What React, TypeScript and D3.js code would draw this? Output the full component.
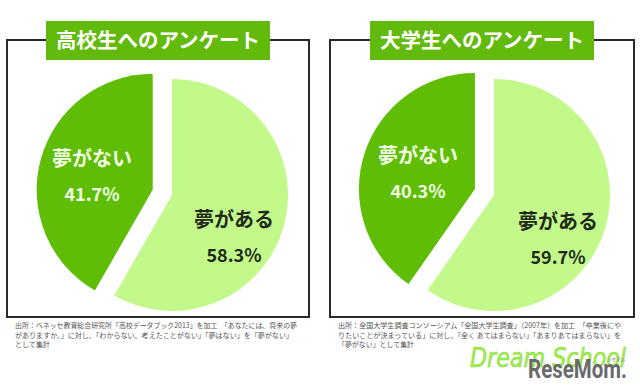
import React from "react";
import * as d3 from "d3";

const categories = ["夢がある", "夢がない"];
const panelTitles = ["高校生へのアンケート", "大学生へのアンケート"];
const highSchoolValues = [58.3, 41.7];
const universityValues = [59.7, 40.3];
const sourceNotesHigh = [
  "出所：ベネッセ教育総合研究所「高校データブック2013」を加工　「あなたには、将来の夢",
  "がありますか。」に対し、「わからない、考えたことがない」「夢はない」を「夢がない」",
  "として集計",
];
const sourceNotesUniv = [
  "出所：全国大学生調査コンソーシアム「全国大学生調査」（2007年）を加工　「卒業後にや",
  "りたいことが決まっている」に対し、「全く あてはまらない」「あまりあてはまらない」を",
  "「夢がない」として集計",
];

const W = 640;
const H = 392;
const R = 116;
const EXPLODE = 20;
const COLORS = ["#c3f98b", "#5fbd05"];
const TEXT_COLORS = ["#222a1a", "#f2ffe4"];
const FONT = "'Noto Sans CJK JP', 'Noto Sans', sans-serif";

type PanelSpec = {
  title: string;
  values: number[];
  notes: string[];
  boxX: number;
  boxW: number;
  titleX: number;
  titleW: number;
  cx: number;
  cy: number;
  noteWidths: number[];
  labelOffsets: { dx: number; dy: number }[];
};

const panels: PanelSpec[] = [
  {
    title: panelTitles[0],
    values: highSchoolValues,
    notes: sourceNotesHigh,
    boxX: 7,
    boxW: 302,
    titleX: 46,
    titleW: 224,
    cx: 172,
    cy: 195,
    noteWidths: [282, 278, 35],
    labelOffsets: [
      { dx: 62, dy: 32 },
      { dx: -80, dy: -29 },
    ],
  },
  {
    title: panelTitles[1],
    values: universityValues,
    notes: sourceNotesUniv,
    boxX: 330,
    boxW: 304,
    titleX: 370,
    titleW: 224,
    cx: 494,
    cy: 195,
    noteWidths: [283, 283, 76],
    labelOffsets: [
      { dx: 64, dy: 34 },
      { dx: -76, dy: -32 },
    ],
  },
];

const pie = d3
  .pie<number>()
  .sort(null)
  .startAngle(0)
  .endAngle(2 * Math.PI)
  .value((d) => d);
const arc = d3.arc<d3.PieArcDatum<number>>().innerRadius(0).outerRadius(R);

function Panel({ p }: { p: PanelSpec }) {
  const arcs = pie(p.values);
  const boxTop = 40;
  const boxBottom = 317;
  return (
    <g>
      <rect
        x={p.boxX}
        y={boxTop}
        width={p.boxW}
        height={boxBottom - boxTop}
        fill="#ffffff"
        stroke="#2a2a2a"
        strokeWidth={2}
      />
      <rect x={p.titleX} y={21} width={p.titleW} height={39} fill="#62ba0c" />
      <text
        x={p.titleX + p.titleW / 2}
        y={48}
        textAnchor="middle"
        fill="#ffffff"
        fontFamily={FONT}
        fontWeight={700}
        fontSize={20.5}
      >
        {p.title}
      </text>
      {arcs.map((a, i) => {
        const mid = (a.startAngle + a.endAngle) / 2;
        const off = i === 1 ? EXPLODE : 0;
        const ox = p.cx + Math.sin(mid) * off;
        const oy = p.cy - Math.cos(mid) * off;
        const lo = p.labelOffsets[i];
        return (
          <g key={i}>
            <path d={arc(a) || ""} transform={`translate(${ox},${oy})`} fill={COLORS[i]} />
            <text
              x={p.cx + lo.dx}
              y={p.cy + lo.dy}
              textAnchor="middle"
              fill={TEXT_COLORS[i]}
              fontFamily={FONT}
              fontWeight={700}
              fontSize={20}
            >
              {categories[i]}
            </text>
            <text
              x={p.cx + lo.dx}
              y={p.cy + lo.dy + 35}
              textAnchor="middle"
              fill={TEXT_COLORS[i]}
              fontFamily={FONT}
              fontWeight={700}
              fontSize={18}
            >
              {d3.format(".1f")(p.values[i])}%
            </text>
          </g>
        );
      })}
      {p.notes.map((t, i) => (
        <text
          key={i}
          x={p.boxX + 8}
          y={328 + i * 9.5}
          fill="#555555"
          fontFamily={FONT}
          fontSize={7}
          textLength={p.noteWidths[i]}
          lengthAdjust="spacingAndGlyphs"
        >
          {t}
        </text>
      ))}
    </g>
  );
}

export default function App() {
  return (
    <svg
      width={W}
      height={H}
      viewBox={`0 0 ${W} ${H}`}
      style={{ position: "absolute", left: 0, top: 0, background: "#ffffff" }}
    >
      <rect x={0} y={0} width={W} height={H} fill="#ffffff" />
      {panels.map((p, i) => (
        <Panel key={i} p={p} />
      ))}
      <g>
        <text
          x={470}
          y={367}
          fill="#a3ea55"
          stroke="#8be03a"
          strokeWidth={0.6}
          fontFamily="'DejaVu Sans', sans-serif"
          fontStyle="italic"
          fontWeight={300}
          fontSize={27}
          textLength={156}
          lengthAdjust="spacingAndGlyphs"
        >
          Dream School
        </text>
        <text
          x={607}
          y={361}
          fill="#777777"
          fontFamily={FONT}
          fontSize={4.5}
        >
          リセマム
        </text>
        <text
          x={528}
          y={378}
          fill="#6a6a6a"
          fontFamily="'Roboto', 'Liberation Sans', sans-serif"
          fontWeight={700}
          fontSize={25}
          textLength={99}
          lengthAdjust="spacingAndGlyphs"
        >
          ReseMom.
        </text>
      </g>
    </svg>
  );
}
